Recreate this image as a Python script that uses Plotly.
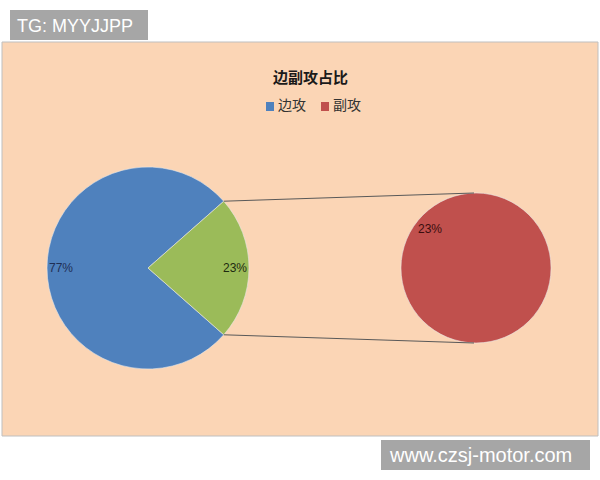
import math
import plotly.graph_objects as go

# data
main_labels = ["边攻", "副攻"]
main_values = [77, 23]
sub_labels = ["副攻"]
sub_values = [23]
chart_title = "边副攻占比"

W, H = 600, 480
blue, green, red = "#4F81BD", "#9BBB59", "#C0504D"
peach = "#FBD5B5"


def fx(px):
    return px / W


def fy(py):
    return 1 - py / H


def label(text, x, y, size, color, family="Liberation Sans", xanchor="center"):
    return dict(text=text, x=fx(x), y=fy(y), xref="paper", yref="paper",
                xanchor=xanchor, yanchor="middle", showarrow=False,
                font=dict(family=family, size=size, color=color))


# pie geometry in pixels
c1x, c1y, r1 = 148, 268, 101
c2x, c2y, r2 = 476, 268, 75

total = sum(main_values)
other_share = main_values[1] / total
half_angle = 180 * other_share  # half of the green slice, degrees

fig = go.Figure()

fig.add_trace(go.Pie(
    labels=main_labels,
    values=main_values,
    sort=False,
    direction="clockwise",
    rotation=90 + half_angle,
    marker=dict(colors=[blue, green], line=dict(color="#E8E8E8", width=0.6)),
    textinfo="none",
    hoverinfo="label+percent",
    showlegend=False,
    domain=dict(x=[fx(c1x - r1), fx(c1x + r1)], y=[fy(c1y + r1), fy(c1y - r1)]),
))

fig.add_trace(go.Pie(
    labels=sub_labels,
    values=sub_values,
    sort=False,
    marker=dict(colors=[red], line=dict(color="#E8E8E8", width=0.6)),
    textinfo="none",
    hoverinfo="label",
    showlegend=False,
    domain=dict(x=[fx(c2x - r2), fx(c2x + r2)], y=[fy(c2y + r2), fy(c2y - r2)]),
))

shapes = []
# chart area
shapes.append(dict(type="rect", xref="paper", yref="paper", layer="below",
                   x0=fx(2), x1=fx(598), y0=fy(436), y1=fy(42),
                   fillcolor=peach, line=dict(color="#BFBFBF", width=1)))

# connector lines from green slice edges to the small pie
a = math.radians(half_angle)
for sgn in (1, -1):
    sx = c1x + r1 * math.cos(a)
    sy = c1y - sgn * r1 * math.sin(a)
    shapes.append(dict(type="line", xref="paper", yref="paper",
                       x0=fx(sx), y0=fy(sy), x1=fx(c2x - 2), y1=fy(c2y - sgn * r2),
                       line=dict(color="#595959", width=1)))

# watermark boxes
shapes.append(dict(type="rect", xref="paper", yref="paper",
                   x0=fx(10), x1=fx(148), y0=fy(40), y1=fy(10),
                   fillcolor="#A6A6A6", line=dict(width=0)))
shapes.append(dict(type="rect", xref="paper", yref="paper",
                   x0=fx(381), x1=fx(590), y0=fy(470), y1=fy(440),
                   fillcolor="#A6A6A6", line=dict(width=0)))

# legend squares
leg_x = [266, 321]
for lx, col in zip(leg_x, [blue, red]):
    shapes.append(dict(type="rect", xref="paper", yref="paper",
                       x0=fx(lx), x1=fx(lx + 8), y0=fy(111), y1=fy(102),
                       fillcolor=col, line=dict(width=0)))

annotations = []
annotations.append(label("<b>" + chart_title + "</b>", 310, 76, 15, "#1a1a1a",
                         family="Noto Sans CJK SC"))
for lx, lab in zip(leg_x, [main_labels[0], sub_labels[0]]):
    annotations.append(label(lab, lx + 10, 104, 14, "#333333",
                             family="Noto Sans CJK SC", xanchor="left"))

# percentage labels
pct_main = [f"{round(100 * v / total)}%" for v in main_values]
lab_r = 0.86
annotations.append(label(pct_main[0], c1x - lab_r * r1, c1y, 12, "#1F2F55"))
annotations.append(label(pct_main[1], c1x + lab_r * r1, c1y, 12, "#1E2A10"))
ang = math.radians(140)
annotations.append(label(f"{sub_values[0]}%", c2x + 0.8 * r2 * math.cos(ang),
                         c2y - 0.8 * r2 * math.sin(ang), 12, "#3A0E0E"))

# watermark text
annotations.append(label("TG: MYYJJPP", 15, 26, 18, "white", xanchor="left"))
annotations.append(label("www.czsj-motor.com", 387, 455, 20, "white", xanchor="left"))

fig.update_layout(
    width=W, height=H,
    margin=dict(l=0, r=0, t=0, b=0),
    paper_bgcolor="white",
    plot_bgcolor="white",
    shapes=shapes,
    annotations=annotations,
)

fig.write_html("out.html", config={"displayModeBar": False},
               post_script="document.body.style.margin='0';")
